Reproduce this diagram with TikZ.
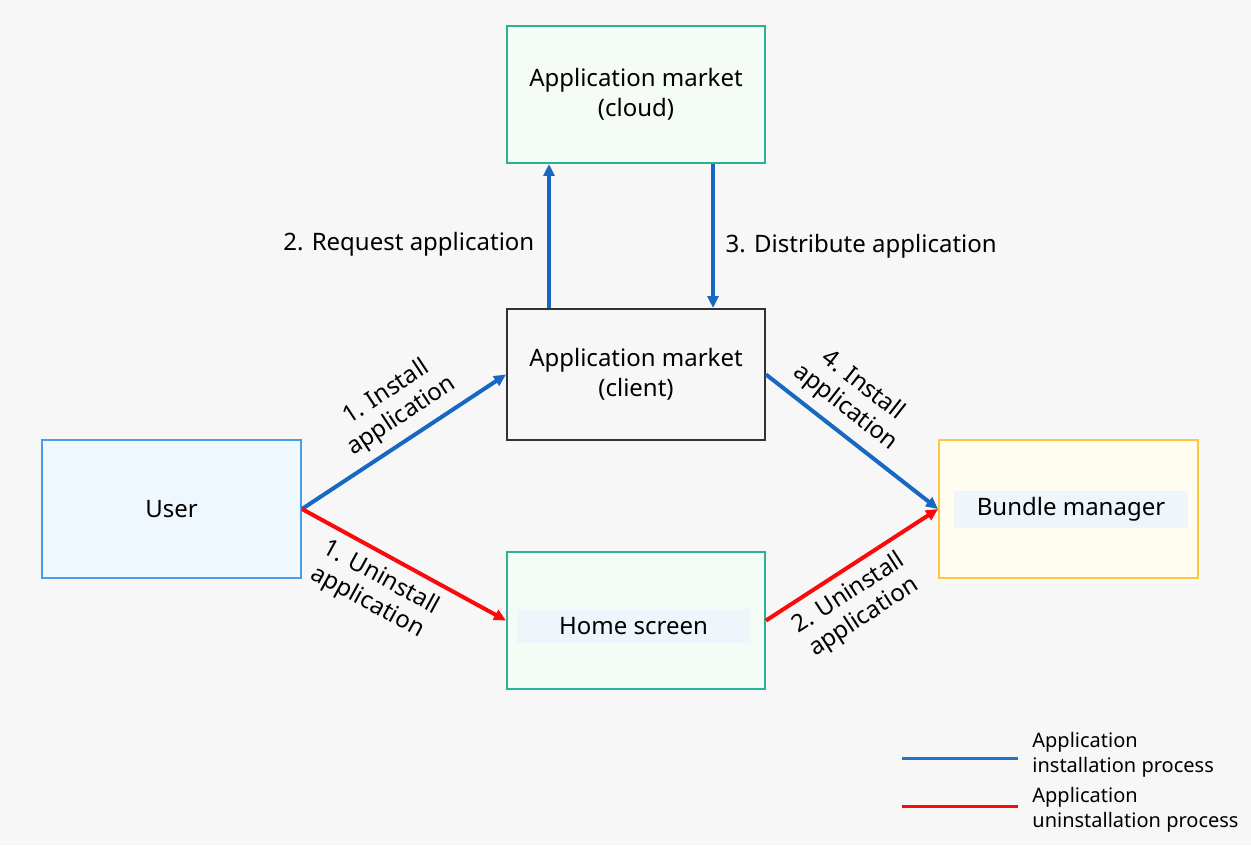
\documentclass[tikz,border=0pt]{standalone}
\usepackage{fontspec}
\setmainfont{Noto Sans}
\usetikzlibrary{arrows.meta,calc}
\definecolor{bgc}{RGB}{247,247,247}
\definecolor{tealb}{RGB}{40,178,150}
\definecolor{greenf}{RGB}{244,252,245}
\definecolor{userb}{RGB}{74,155,232}
\definecolor{userf}{RGB}{240,248,255}
\definecolor{yelb}{RGB}{255,200,60}
\definecolor{yelf}{RGB}{255,252,240}
\definecolor{instc}{RGB}{22,104,194}
\definecolor{uninc}{RGB}{250,10,10}
\definecolor{txtbg}{RGB}{238,246,252}
\definecolor{darkb}{RGB}{50,50,50}
\tikzset{
  box/.style={draw, line width=1pt, minimum width=129pt, minimum height=68.5pt, inner sep=0pt, align=center, font=\fontsize{12}{15}\selectfont},
  inst/.style={draw=instc, line width=2pt, -{Triangle[length=6pt,width=5.5pt]}},
  unin/.style={draw=uninc, line width=2pt, -{Triangle[length=6pt,width=5.5pt]}},
  lab/.style={font=\fontsize{12}{14}\selectfont, align=center, text=black},
  leg/.style={font=\fontsize{10}{12.5}\selectfont, align=left, anchor=west, inner sep=0pt}
}
\begin{document}
\begin{tikzpicture}[x=0.5pt,y=-0.5pt]
\useasboundingbox (0,0) rectangle (1251,845);
\fill[bgc] (0,0) rectangle (1251,845);

\node[box, draw=tealb, fill=greenf, minimum height=68.5pt] (cloud) at (636,94.5) {Application market\\(cloud)};
\node[box, draw=darkb, fill=bgc, minimum height=65.5pt] (client) at (636,374.5) {Application market\\(client)};
\node[box, draw=userb, fill=userf, minimum width=129.5pt, minimum height=69pt] (user) at (171.5,509) {User};
\node[box, draw=tealb, fill=greenf, minimum height=68.5pt] (home) at (636,620.5) {};
\node[box, draw=yelb, fill=yelf, minimum width=129.5pt, minimum height=69pt] (bundle) at (1068.5,509) {};
\node[fill=txtbg, minimum width=116.5pt, minimum height=17pt, inner sep=0pt, font=\fontsize{12}{15}\selectfont] (hometxt) at (633.5,626) {Home screen};
\node[fill=txtbg, minimum width=117pt, minimum height=18.5pt, inner sep=0pt, font=\fontsize{12}{15}\selectfont] (bundletxt) at (1071,509) {Bundle manager};

\draw[inst] ($(client.north west)+(43,0)$) -- ($(cloud.south west)+(43,0)$)
  node[lab, midway, left=3pt, yshift=-4pt] (req) {2. Request application};
\draw[inst] ($(cloud.south west)+(207,0)$) -- ($(client.north west)+(207,0)$)
  node[lab, midway, right=2pt, yshift=-5pt] (dist) {3. Distribute application};

\draw[inst] (user.east) -- (client.west)
  node[lab, pos=0.55, sloped, above=1pt] (l1) {1. Install\\application};
\draw[unin] (user.east) -- (home.west)
  node[lab, pos=0.44, sloped, below=1pt] (l2) {1. Uninstall\\application};
\draw[inst] (client.east) -- (bundle.west)
  node[lab, pos=0.38, sloped, above=1pt] (l3) {4. Install\\application};
\draw[unin] (home.east) -- (bundle.west)
  node[lab, pos=0.41, sloped, below=1pt] (l4) {2. Uninstall\\application};

\coordinate (lb1) at (902,758);
\coordinate (lb2) at (1018,758);
\coordinate (lr1) at (902,806);
\coordinate (lr2) at (1018,806);
\draw[instc!80!userb, line width=1.5pt] (lb1) -- (lb2);
\draw[uninc, line width=1.5pt] (lr1) -- (lr2);
\node[leg] (legi) at (1032,755) {Application\\installation process};
\node[leg] (legu) at (1032,810) {Application\\uninstallation process};
\end{tikzpicture}
\end{document}
